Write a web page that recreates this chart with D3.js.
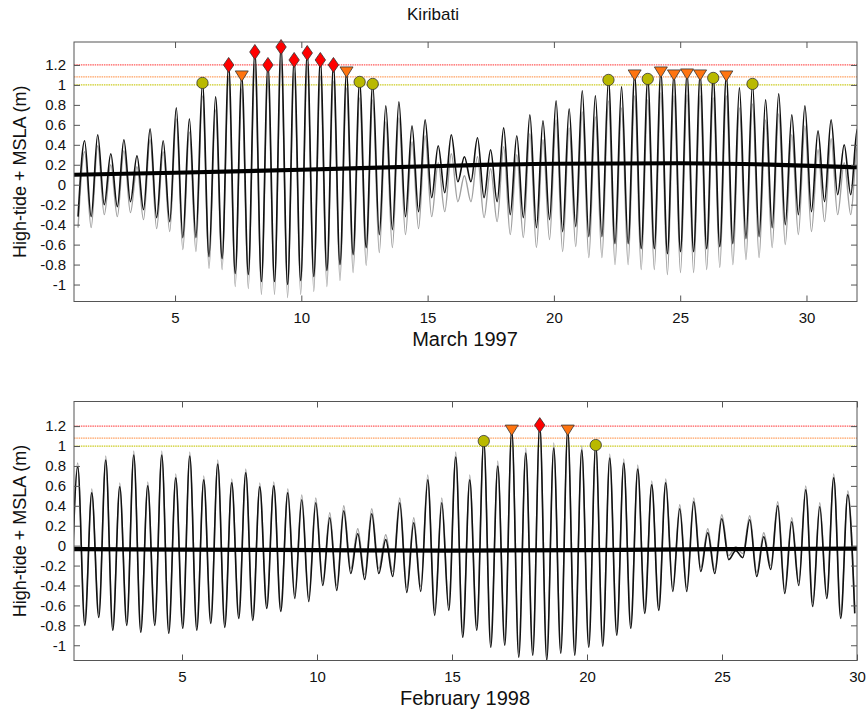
<!DOCTYPE html>
<html>
<head>
<meta charset="utf-8">
<script src="https://cdn.jsdelivr.net/npm/d3@7"></script>
<style>
  body { margin: 0; background: #fff; }
  text { font-family: "Liberation Sans", Arial, sans-serif; fill: #111; }
</style>
</head>
<body>
<svg id="chart" width="867" height="709"></svg>
<script>
// ---- data ----
const tideCycle = 0.5185            // days between two high tides
const thresholds = [1.0, 1.08, 1.2]
const thresholdColors = ['#cccc22', '#ffa060', '#ff5a5a']
const yTicks = [-1, -0.8, -0.6, -0.4, -0.2, 0, 0.2, 0.4, 0.6, 0.8, 1, 1.2]
const xTicks = [5, 10, 15, 20, 25, 30]

// March 1997: high / low water of high-tide + MSLA (black) and tide only (grey)
const marchFirstHigh = 1.42
const marchHigh = [0.44, 0.50, 0.31, 0.45, 0.29, 0.56, 0.44, 0.77, 0.66, 1.02,
  0.88, 1.20, 1.09, 1.33, 1.20, 1.38, 1.25, 1.32, 1.25, 1.20,
  1.13, 1.03, 1.01, 0.79, 0.83, 0.59, 0.65, 0.39, 0.50, 0.28,
  0.47, 0.35, 0.57, 0.49, 0.70, 0.64, 0.84, 0.76, 0.94, 0.89,
  1.05, 0.98, 1.10, 1.06, 1.13, 1.10, 1.11, 1.10, 1.07, 1.09,
  0.97, 1.01, 0.85, 0.91, 0.70, 0.79, 0.54, 0.65, 0.40, 0.56]
const marchLow = [-0.32, -0.32, -0.20, -0.22, -0.17, -0.25, -0.33, -0.37, -0.53, -0.53,
  -0.72, -0.74, -0.89, -0.90, -0.97, -0.97, -1.00, -0.96, -0.92, -0.86,
  -0.80, -0.70, -0.63, -0.50, -0.45, -0.32, -0.27, -0.13, -0.08, 0.03,
  0.03, -0.13, -0.17, -0.30, -0.33, -0.43, -0.35, -0.47, -0.42, -0.52,
  -0.52, -0.59, -0.59, -0.64, -0.64, -0.69, -0.67, -0.67, -0.64, -0.62,
  -0.59, -0.54, -0.52, -0.43, -0.40, -0.30, -0.27, -0.17, -0.10, -0.10, -0.25]
const marchTideHigh = [0.33, 0.39, 0.20, 0.34, 0.18, 0.45, 0.33, 0.66, 0.53, 0.89,
  0.75, 1.07, 0.96, 1.20, 1.07, 1.25, 1.12, 1.19, 1.09, 1.04,
  0.97, 0.87, 0.85, 0.63, 0.67, 0.43, 0.49, 0.22, 0.31, 0.09,
  0.28, 0.16, 0.38, 0.30, 0.51, 0.45, 0.65, 0.57, 0.73, 0.68,
  0.84, 0.77, 0.89, 0.85, 0.92, 0.89, 0.90, 0.89, 0.87, 0.89,
  0.77, 0.81, 0.65, 0.71, 0.50, 0.59, 0.35, 0.46, 0.22, 0.38]
const marchTideLow = [-0.43, -0.43, -0.30, -0.32, -0.28, -0.35, -0.44, -0.47, -0.65, -0.67,
  -0.84, -0.85, -1.02, -1.04, -1.10, -1.10, -1.13, -1.10, -1.07, -1.02,
  -0.96, -0.88, -0.81, -0.68, -0.63, -0.50, -0.44, -0.32, -0.27, -0.17,
  -0.17, -0.33, -0.37, -0.50, -0.53, -0.63, -0.55, -0.67, -0.62, -0.73,
  -0.73, -0.80, -0.80, -0.85, -0.85, -0.90, -0.88, -0.88, -0.85, -0.83,
  -0.80, -0.75, -0.73, -0.63, -0.60, -0.50, -0.47, -0.37, -0.30, -0.30, -0.45]
const marchMslaDay = [1, 5, 10, 15, 20, 25, 28, 32]
const marchMsla = [0.10, 0.12, 0.15, 0.185, 0.21, 0.215, 0.205, 0.175]

// February 1998
const febFirstHigh = 1.14
const febHigh = [0.79, 0.53, 0.86, 0.59, 0.91, 0.60, 0.91, 0.68, 0.90, 0.66,
  0.82, 0.63, 0.73, 0.59, 0.60, 0.53, 0.46, 0.43, 0.28, 0.35,
  0.12, 0.32, 0.06, 0.43, 0.23, 0.66, 0.43, 0.89, 0.66, 1.05,
  0.80, 1.16, 0.93, 1.21, 0.98, 1.16, 0.96, 1.01, 0.88, 0.83,
  0.77, 0.61, 0.63, 0.37, 0.44, 0.13, 0.27, -0.05, 0.26, 0.09,
  0.40, 0.24, 0.56, 0.39, 0.68, 0.51]
const febLow = [-0.70, -0.80, -0.72, -0.85, -0.80, -0.87, -0.80, -0.88, -0.83, -0.85,
  -0.78, -0.82, -0.73, -0.75, -0.63, -0.66, -0.53, -0.56, -0.40, -0.45,
  -0.28, -0.34, -0.28, -0.31, -0.47, -0.46, -0.70, -0.65, -0.92, -0.85,
  -1.02, -1.00, -1.12, -1.10, -1.15, -1.08, -1.10, -1.02, -1.01, -0.90,
  -0.83, -0.68, -0.65, -0.46, -0.46, -0.26, -0.28, -0.14, -0.12, -0.31,
  -0.24, -0.48, -0.40, -0.61, -0.53, -0.73, -0.68]
const febTideHigh = [0.83, 0.57, 0.90, 0.63, 0.95, 0.64, 0.95, 0.72, 0.94, 0.70,
  0.86, 0.67, 0.77, 0.63, 0.64, 0.57, 0.51, 0.48, 0.33, 0.40,
  0.17, 0.37, 0.11, 0.48, 0.28, 0.71, 0.48, 0.94, 0.71, 1.10,
  0.85, 1.21, 0.98, 1.26, 1.03, 1.20, 1.00, 1.05, 0.92, 0.87,
  0.81, 0.65, 0.67, 0.41, 0.48, 0.17, 0.31, -0.01, 0.30, 0.13,
  0.44, 0.28, 0.60, 0.43, 0.72, 0.55]
const febTideLow = [-0.66, -0.76, -0.68, -0.81, -0.76, -0.83, -0.76, -0.84, -0.79, -0.81,
  -0.74, -0.78, -0.69, -0.71, -0.59, -0.62, -0.49, -0.52, -0.36, -0.40,
  -0.23, -0.29, -0.23, -0.26, -0.42, -0.41, -0.65, -0.60, -0.87, -0.80,
  -0.97, -0.95, -1.07, -1.05, -1.10, -1.03, -1.05, -0.98, -0.97, -0.86,
  -0.79, -0.64, -0.61, -0.42, -0.42, -0.22, -0.24, -0.10, -0.08, -0.27,
  -0.20, -0.44, -0.36, -0.57, -0.49, -0.69, -0.64]
const febMslaDay = [1, 5, 10, 15, 20, 25, 30]
const febMsla = [-0.035, -0.04, -0.045, -0.05, -0.045, -0.035, -0.03]

// ---- drawing ----
const svg = d3.select('#chart')

// alternate low / high water into one time series
function extrema (firstHigh, highs, lows) {
  const pts = []
  lows.forEach((v, i) => {
    pts.push([firstHigh + (i - 0.5) * tideCycle, v])
    if (i < highs.length) pts.push([firstHigh + i * tideCycle, highs[i]])
  })
  return pts
}

function markerPath (v) {
  if (v >= thresholds[2]) return 'M0,-7.5L5.2,0L0,7.5L-5.2,0Z'
  if (v >= thresholds[1]) return 'M-6.5,-5L6.5,-5L0,5.5Z'
  return d3.symbol(d3.symbolCircle, 100)()
}
function markerColor (v) {
  if (v >= thresholds[2]) return '#ff0000'
  if (v >= thresholds[1]) return '#ff7410'
  return '#b9b900'
}

function drawPanel (p) {
  const x = d3.scaleLinear().domain(p.xDomain).range([74, 857])
  const y = d3.scaleLinear().domain(p.yDomain).range([p.bottom, p.top])
  const g = svg.append('g')
  const clipId = 'clip' + p.id
  g.append('clipPath').attr('id', clipId)
    .append('rect').attr('x', 74).attr('y', p.top).attr('width', 783).attr('height', p.bottom - p.top)

  const plot = g.append('g').attr('clip-path', `url(#${clipId})`)

  // threshold lines
  thresholds.forEach((t, i) => {
    plot.append('line')
      .attr('x1', 74).attr('x2', 857)
      .attr('y1', y(t)).attr('y2', y(t))
      .attr('stroke', thresholdColors[i])
      .attr('stroke-width', 1.2)
      .attr('stroke-dasharray', '1.5,0.8')
  })

  const line = d3.line().x(d => x(d[0])).y(d => y(d[1])).curve(d3.curveMonotoneX)

  plot.append('path')
    .attr('d', line(extrema(p.firstHigh, p.tideHigh, p.tideLow)))
    .attr('fill', 'none').attr('stroke', '#a0a0a0').attr('stroke-width', 1.4)
  plot.append('path')
    .attr('d', line(extrema(p.firstHigh, p.high, p.low)))
    .attr('fill', 'none').attr('stroke', '#111').attr('stroke-width', 1.6)

  const mslaLine = d3.line().x((d, i) => x(p.mslaDay[i])).y(d => y(d)).curve(d3.curveMonotoneX)
  plot.append('path')
    .attr('d', mslaLine(p.msla))
    .attr('fill', 'none').attr('stroke', '#000').attr('stroke-width', 4.2)

  // flagged high waters
  const flagged = p.high.map((v, i) => ({ t: p.firstHigh + i * tideCycle, v }))
    .filter(d => d.v >= thresholds[0])
  g.selectAll('.mk' + p.id).data(flagged).join('path')
    .attr('class', 'mk' + p.id)
    .attr('transform', d => `translate(${x(d.t)},${y(d.v)})`)
    .attr('d', d => markerPath(d.v))
    .attr('fill', d => markerColor(d.v))
    .attr('stroke', '#333').attr('stroke-width', 0.8)

  // box with inward ticks on all sides
  const fmt = d => String(+d.toFixed(1))
  const axisStyle = a => {
    a.select('.domain').remove()
    a.selectAll('line').attr('stroke', '#555')
    a.selectAll('text').style('font-size', '15px').attr('fill', '#111')
  }
  g.append('g').attr('transform', `translate(0,${p.bottom})`)
    .call(d3.axisBottom(x).tickValues(xTicks).tickSize(-6).tickPadding(11))
    .call(axisStyle)
  g.append('g').attr('transform', `translate(0,${p.top})`)
    .call(d3.axisTop(x).tickValues(xTicks).tickSize(-6).tickFormat(''))
    .call(axisStyle)
  g.append('g').attr('transform', 'translate(74,0)')
    .call(d3.axisLeft(y).tickValues(yTicks).tickSize(-6).tickPadding(8).tickFormat(fmt))
    .call(axisStyle)
  g.append('g').attr('transform', 'translate(857,0)')
    .call(d3.axisRight(y).tickValues(yTicks).tickSize(-6).tickFormat(''))
    .call(axisStyle)
  g.append('rect')
    .attr('x', 74).attr('y', p.top).attr('width', 783).attr('height', p.bottom - p.top)
    .attr('fill', 'none').attr('stroke', '#555').attr('stroke-width', 1)

  g.append('text')
    .attr('x', 465).attr('y', p.bottom + 44)
    .attr('text-anchor', 'middle').style('font-size', '20px')
    .text(p.xLabel)
  g.append('text')
    .attr('transform', `translate(26,${(p.top + p.bottom) / 2}) rotate(-90)`)
    .attr('text-anchor', 'middle').style('font-size', '18px')
    .text('High-tide + MSLA (m)')
}

svg.append('text')
  .attr('x', 433).attr('y', 20)
  .attr('text-anchor', 'middle').style('font-size', '17px')
  .text('Kiribati')

drawPanel({
  id: 'mar', top: 42, bottom: 301.5, xDomain: [1, 32], yDomain: [-1.17, 1.43],
  firstHigh: marchFirstHigh, high: marchHigh, low: marchLow,
  tideHigh: marchTideHigh, tideLow: marchTideLow,
  mslaDay: marchMslaDay, msla: marchMsla, xLabel: 'March 1997'
})
drawPanel({
  id: 'feb', top: 401.5, bottom: 660.5, xDomain: [1, 30], yDomain: [-1.153, 1.447],
  firstHigh: febFirstHigh, high: febHigh, low: febLow,
  tideHigh: febTideHigh, tideLow: febTideLow,
  mslaDay: febMslaDay, msla: febMsla, xLabel: 'February 1998'
})
</script>
</body>
</html>
